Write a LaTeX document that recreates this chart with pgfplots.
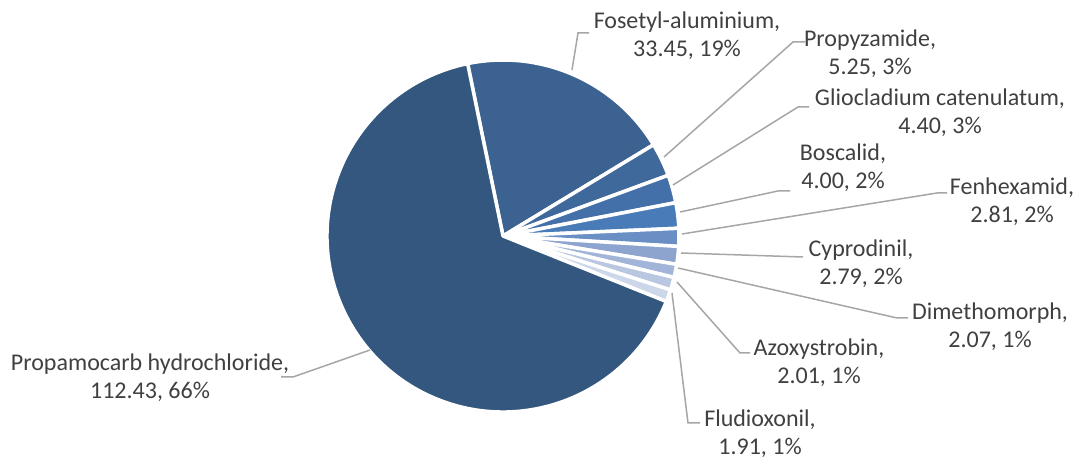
\documentclass[border=0pt]{standalone}
\usepackage{pgfplots}
\pgfplotsset{compat=1.18}
\usepackage{pgfplotstable}
\usepackage{fontspec}
\setmainfont{Carlito}

\definecolor{cprop}{HTML}{34577F}
\definecolor{cfos}{HTML}{3B6290}
\definecolor{cpyz}{HTML}{3F699B}
\definecolor{cgli}{HTML}{4370A8}
\definecolor{cbos}{HTML}{4A7BB9}
\definecolor{cfen}{HTML}{6A8FC4}
\definecolor{ccyp}{HTML}{8CA4CE}
\definecolor{cdim}{HTML}{A2B5D8}
\definecolor{cazo}{HTML}{B9C7E1}
\definecolor{cflu}{HTML}{CDD7EA}
\definecolor{leadgray}{HTML}{A6A6A6}
\definecolor{txt}{HTML}{404040}

\tikzset{
  leader/.style={draw=leadgray, line width=0.75pt},
  lbl/.style={align=center, text=txt, inner sep=0pt,
    font=\fontsize{12}{14}\selectfont},
}

% value, percent, colour, label centre (px), leader points (px, y down)
\pgfplotstableread[col sep=comma]{
name,value,pct,col,lx,ly,ax,ay,bx,by,cx,cy
Fosetyl-aluminium,33.45,19,cfos,687,36,572,70,578,33,589,33
Propyzamide,5.25,3,cpyz,870,54,664,157,793,42,805,42
Gliocladium catenulatum,4.40,3,cgli,940,113,673,185,798,107,809,107
Boscalid,4.00,2,cbos,843,168,680,212,778,191,790,191
Fenhexamid,2.81,2,cfen,1012,202,682,234,937,193,947,193
Cyprodinil,2.79,2,ccyp,861,264,681,253,803,257,803,257
Dimethomorph,2.07,1,cdim,990,327,678,268,897,318,908,318
Azoxystrobin,2.01,1,cazo,819,363,677,282,740,353,750,353
Fludioxonil,1.91,1,cflu,760,434,672,293,688,423,700,423
Propamocarb hydrochloride,112.43,66,cprop,150,378,370,350,293,377,281,377
}\piedata

\begin{document}
\begin{tikzpicture}
\begin{axis}[
  name=ax,
  x=0.5pt, y=0.5pt,
  xmin=0, xmax=1082, ymin=0, ymax=459,
  y dir=reverse,
  hide axis, clip=false,
]
  \xdef\cum{0}
  \pgfplotsinvokeforeach{0,...,9}{%
    \pgfplotstablegetelem{#1}{name}\of\piedata \let\nm\pgfplotsretval
    \pgfplotstablegetelem{#1}{value}\of\piedata \let\val\pgfplotsretval
    \pgfplotstablegetelem{#1}{pct}\of\piedata \let\pc\pgfplotsretval
    \pgfplotstablegetelem{#1}{col}\of\piedata \let\cl\pgfplotsretval
    \pgfplotstablegetelem{#1}{lx}\of\piedata \let\lx\pgfplotsretval
    \pgfplotstablegetelem{#1}{ly}\of\piedata \let\ly\pgfplotsretval
    \pgfplotstablegetelem{#1}{ax}\of\piedata \let\ax\pgfplotsretval
    \pgfplotstablegetelem{#1}{ay}\of\piedata \let\ay\pgfplotsretval
    \pgfplotstablegetelem{#1}{bx}\of\piedata \let\bx\pgfplotsretval
    \pgfplotstablegetelem{#1}{by}\of\piedata \let\by\pgfplotsretval
    \pgfplotstablegetelem{#1}{cx}\of\piedata \let\cx\pgfplotsretval
    \pgfplotstablegetelem{#1}{cy}\of\piedata \let\cy\pgfplotsretval
    % 360/171.12 degrees per unit
    \pgfmathsetmacro\aa{101.6-2.10379*\cum}
    \pgfmathsetmacro\newcum{\cum+\val}
    \pgfmathsetmacro\ab{101.6-2.10379*\newcum}
    \xdef\cum{\newcum}
    \edef\tmp{%
      \noexpand\fill[fill=\cl, draw=white, line width=1.75pt, line join=round]
        (axis cs:503,236) -- +(\aa:88pt)
        arc[start angle=\aa, end angle=\ab, radius=88pt] -- cycle;
      \noexpand\draw[leader] (axis cs:\ax,\ay) -- (axis cs:\bx,\by) -- (axis cs:\cx,\cy);
      \noexpand\node[lbl] at (axis cs:\lx,\ly) {\nm,\noexpand\\\val, \pc\noexpand\%};
    }\tmp
  }
\end{axis}
\pgfresetboundingbox
\path (ax.south west) rectangle (ax.north east);
\end{tikzpicture}
\end{document}
